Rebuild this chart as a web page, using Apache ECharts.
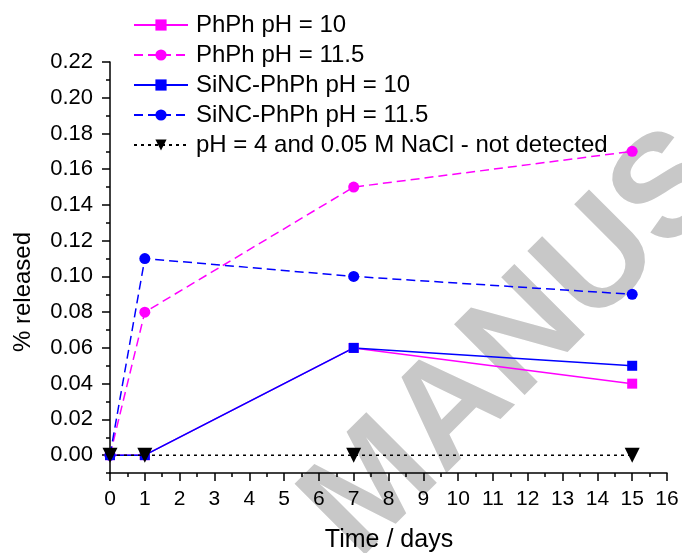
<!DOCTYPE html>
<html>
<head>
<meta charset="utf-8">
<script src="https://cdn.jsdelivr.net/npm/echarts@6/dist/echarts.min.js"></script>
<style>
  html, body { margin: 0; padding: 0; background: #fff; }
  #chart { width: 682px; height: 553px; }
</style>
</head>
<body>
<div id="chart"></div>
<script>
// data
var days = [0, 1, 7, 15];
var phph10 = [0, 0, 0.06, 0.04];
var phph115 = [0, 0.08, 0.15, 0.17];
var sinc10 = [0, 0, 0.06, 0.05];
var sinc115 = [0, 0.11, 0.10, 0.09];
var ph4 = [0, 0, 0, 0];
var yMajor = [0, 0.02, 0.04, 0.06, 0.08, 0.10, 0.12, 0.14, 0.16, 0.18, 0.20, 0.22];
var yMinor = [-0.01, 0.01, 0.03, 0.05, 0.07, 0.09, 0.11, 0.13, 0.15, 0.17, 0.19, 0.21];

function pairs(ys) {
  return days.map(function (d, i) { return [d, ys[i]]; });
}

var chart = echarts.init(document.getElementById('chart'));
var font = 'Liberation Sans, Arial, sans-serif';

function mk(name, ys, color, type, symbol, size) {
  return {
    name: name, type: 'line', data: pairs(ys),
    symbol: symbol, symbolSize: size,
    itemStyle: { color: color },
    lineStyle: { color: color, width: 1.5, type: type },
    z: 3
  };
}

var series = [
  mk('PhPh pH = 10', phph10, '#ff00ff', 'solid', 'rect', 10),
  mk('PhPh pH = 11.5', phph115, '#ff00ff', [9, 5], 'circle', 11),
  mk('SiNC-PhPh pH = 10', sinc10, '#0000ff', 'solid', 'rect', 10),
  mk('SiNC-PhPh pH = 11.5', sinc115, '#0000ff', [9, 5], 'circle', 11),
  mk('pH = 4 and 0.05 M NaCl - not detected', ph4, '#000000', [3, 4], 'triangle', 15)
];
series[4].symbolRotate = 180;
series[4].z = 4;

var option = {
  animation: false,
  backgroundColor: '#fff',
  grid: { left: 110, right: 15, top: 62, bottom: 80 },
  legend: {
    orient: 'vertical', left: 133, top: 13, padding: 0,
    itemWidth: 54, itemHeight: 14, itemGap: 6,
    textStyle: { fontFamily: font, fontSize: 24, color: '#000', padding: [0, 0, 0, 3] },
    data: series.map(function (s) { return s.name; })
  },
  graphic: [{
    type: 'text', z: -10, silent: true,
    x: 518, y: 345, rotation: Math.PI / 4,
    style: {
      text: 'MANUS', font: 'bold 145px Liberation Sans, Arial, sans-serif',
      fill: '#c8c8c8', align: 'center', verticalAlign: 'middle'
    }
  }, {
    type: 'text', silent: true, x: 389, y: 540,
    style: {
      text: 'Time / days', font: '25px Liberation Sans, Arial, sans-serif',
      fill: '#000', align: 'center', verticalAlign: 'middle'
    }
  }, {
    type: 'text', silent: true, x: 23, y: 292, rotation: Math.PI / 2,
    style: {
      text: '% released', font: '24px Liberation Sans, Arial, sans-serif',
      fill: '#000', align: 'center', verticalAlign: 'middle'
    }
  }],
  xAxis: {
    type: 'value', min: 0, max: 16, interval: 1,
    axisLine: { onZero: false, lineStyle: { color: '#000', width: 1.5 } },
    axisTick: { inside: false, length: 8, lineStyle: { color: '#000', width: 1.5 } },
    minorTick: { show: true, splitNumber: 2, length: 4, lineStyle: { color: '#000', width: 1.5 } },
    axisLabel: { fontFamily: font, fontSize: 21, color: '#000', margin: 16 },
    splitLine: { show: false }
  },
  yAxis: [{
    type: 'value', min: -0.01, max: 0.22,
    axisLine: { onZero: false, lineStyle: { color: '#000', width: 1.5 } },
    axisTick: { length: 8, customValues: yMajor, lineStyle: { color: '#000', width: 1.5 } },
    axisLabel: {
      customValues: yMajor, fontFamily: font, fontSize: 22, color: '#000', margin: 17,
      formatter: function (v) { return v.toFixed(2); }
    },
    splitLine: { show: false }
  }, {
    type: 'value', min: -0.01, max: 0.22, position: 'left',
    axisLine: { show: false },
    axisTick: { length: 4, customValues: yMinor, lineStyle: { color: '#000', width: 1.5 } },
    axisLabel: { show: false },
    splitLine: { show: false }
  }],
  series: series
};
chart.setOption(option);
</script>
</body>
</html>
